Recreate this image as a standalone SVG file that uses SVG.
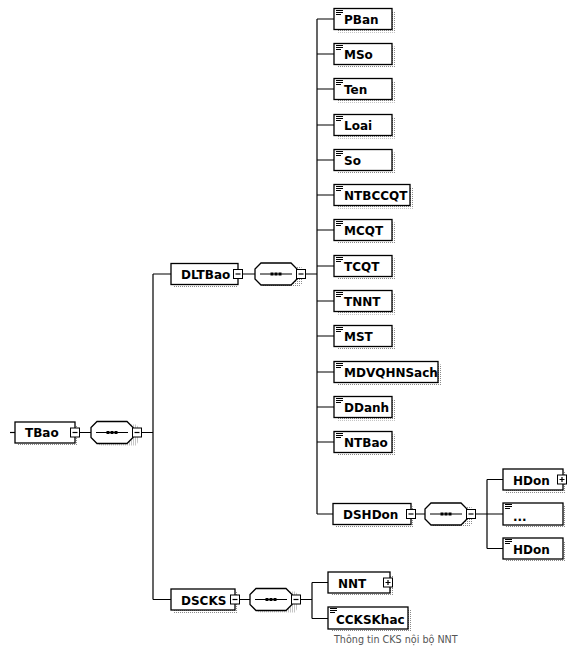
<svg xmlns="http://www.w3.org/2000/svg" xmlns:xlink="http://www.w3.org/1999/xlink" width="575" height="647" viewBox="0 0 575 647">
<style>
.bx{fill:#fff;stroke:#000;stroke-width:1.3}
.sh{fill:url(#dots)}
.t{font-family:"DejaVu Sans",Verdana,sans-serif;font-weight:bold;font-size:12px;fill:#000}
.c{fill:none;stroke:#000;stroke-width:1.2}
.lbl{font-family:"DejaVu Sans",sans-serif;font-size:9.6px;fill:#555}
</style>
<defs>
<pattern id="dots" width="2" height="2" patternUnits="userSpaceOnUse"><rect width="1" height="1" fill="#8a8a8a"/></pattern>
<g id="ic"><path d="M0 0.5h7M0 2.5h7M0 4.5h5" stroke="#000" stroke-width="1"/></g>
<g id="minus"><rect x="-4.5" y="-4.5" width="9" height="9" fill="#fff" stroke="#000" stroke-width="1"/><path d="M-2.5 0h5" stroke="#000" stroke-width="1.2"/></g>
<g id="plus"><rect x="-4.5" y="-4.5" width="9" height="9" fill="#fff" stroke="#000" stroke-width="1"/><path d="M-2.5 0h5M0 -2.5v5" stroke="#000" stroke-width="1.2"/></g>
<g id="seq">
<path d="M9 3H45L48 6V19L45 24H9L3 18V8Z" class="sh"/>
<path d="M6 0H36L42 6V16L36 22H6L0 16V6Z" class="bx"/>
<path d="M5 11H37" stroke="#000" stroke-width="1"/>
<rect x="15.5" y="9.5" width="3" height="3"/><rect x="19.5" y="9.5" width="3" height="3"/><rect x="23.5" y="9.5" width="3" height="3"/>
<use xlink:href="#minus" x="46" y="11"/>
</g>
</defs>
<rect width="575" height="647" fill="#fff"/>

<g id="connectors">
<path class="c" d="M10 432.5H15"/>
<path class="c" d="M79.5 432.5H91M141 432.5H153M153 274V599.5M153 274H171M153 599.5H171"/>
<path class="c" d="M242.5 274H255M305 274H317M317 19V514"/>
<path class="c" d="M317 19H334M317 54H334M317 89H334M317 125H334M317 160H334M317 195H334M317 230H334M317 266H334M317 301H334M317 336H334M317 372H334M317 407H334M317 442H334M317 514H333"/>
<path class="c" d="M415.5 514H425M475 514H503M487 479.5V548.5M487 479.5H503M487 548.5H503"/>
<path class="c" d="M239.5 599.5H250M300 599.5H312M312 582.5V618.5M312 582.5H328M312 618.5H328"/>
</g>

<g id="TBao"><rect class="sh" x="18" y="425" width="60" height="21"/><rect class="bx" x="15" y="422" width="60" height="21"/><text class="t" x="25" y="437">TBao</text><use xlink:href="#minus" x="75" y="432.5"/></g>
<g id="seq-TBao"><use xlink:href="#seq" x="91" y="421.5"/></g>

<g id="DLTBao"><rect class="sh" x="174" y="267" width="64" height="21"/><rect class="bx" x="171" y="263.5" width="67" height="21"/><text class="t" x="181" y="279">DLTBao</text><use xlink:href="#minus" x="238" y="274"/></g>
<g id="seq-DLTBao"><use xlink:href="#seq" x="255" y="263"/></g>

<g id="PBan"><rect class="sh" x="337" y="11.5" width="58" height="21"/><rect class="bx" x="334" y="8.5" width="58" height="21"/><use xlink:href="#ic" x="336" y="10"/><text class="t" x="344" y="24">PBan</text></g>
<g id="MSo"><rect class="sh" x="337" y="46.5" width="58" height="21"/><rect class="bx" x="334" y="43.5" width="58" height="21"/><use xlink:href="#ic" x="336" y="45"/><text class="t" x="344" y="59">MSo</text></g>
<g id="Ten"><rect class="sh" x="337" y="81.5" width="58" height="21"/><rect class="bx" x="334" y="78.5" width="58" height="21"/><use xlink:href="#ic" x="336" y="80"/><text class="t" x="344" y="94">Ten</text></g>
<g id="Loai"><rect class="sh" x="337" y="117.5" width="58" height="21"/><rect class="bx" x="334" y="114.5" width="58" height="21"/><use xlink:href="#ic" x="336" y="116"/><text class="t" x="344" y="130">Loai</text></g>
<g id="So"><rect class="sh" x="337" y="152.5" width="58" height="21"/><rect class="bx" x="334" y="149.5" width="58" height="21"/><use xlink:href="#ic" x="336" y="151"/><text class="t" x="344" y="165">So</text></g>
<g id="NTBCCQT"><rect class="sh" x="337" y="187.5" width="76" height="21"/><rect class="bx" x="334" y="184.5" width="76" height="21"/><use xlink:href="#ic" x="336" y="186"/><text class="t" x="344" y="200">NTBCCQT</text></g>
<g id="MCQT"><rect class="sh" x="337" y="222.5" width="58" height="21"/><rect class="bx" x="334" y="219.5" width="58" height="21"/><use xlink:href="#ic" x="336" y="221"/><text class="t" x="344" y="235">MCQT</text></g>
<g id="TCQT"><rect class="sh" x="337" y="258.5" width="58" height="21"/><rect class="bx" x="334" y="255.5" width="58" height="21"/><use xlink:href="#ic" x="336" y="257"/><text class="t" x="344" y="271">TCQT</text></g>
<g id="TNNT"><rect class="sh" x="337" y="293.5" width="58" height="21"/><rect class="bx" x="334" y="290.5" width="58" height="21"/><use xlink:href="#ic" x="336" y="292"/><text class="t" x="344" y="306">TNNT</text></g>
<g id="MST"><rect class="sh" x="337" y="328.5" width="58" height="21"/><rect class="bx" x="334" y="325.5" width="58" height="21"/><use xlink:href="#ic" x="336" y="327"/><text class="t" x="344" y="341">MST</text></g>
<g id="MDVQHNSach"><rect class="sh" x="337" y="364.5" width="104" height="21"/><rect class="bx" x="334" y="361.5" width="104" height="21"/><use xlink:href="#ic" x="336" y="363"/><text class="t" x="344" y="377">MDVQHNSach</text></g>
<g id="DDanh"><rect class="sh" x="337" y="399.5" width="58" height="21"/><rect class="bx" x="334" y="396.5" width="58" height="21"/><use xlink:href="#ic" x="336" y="398"/><text class="t" x="344" y="412">DDanh</text></g>
<g id="NTBao"><rect class="sh" x="337" y="434.5" width="58" height="21"/><rect class="bx" x="334" y="431.5" width="58" height="21"/><use xlink:href="#ic" x="336" y="433"/><text class="t" x="344" y="447">NTBao</text></g>

<g id="DSHDon"><rect class="sh" x="336" y="506.5" width="78" height="21"/><rect class="bx" x="333" y="503.5" width="78" height="21"/><text class="t" x="343" y="519">DSHDon</text><use xlink:href="#minus" x="411" y="514"/></g>
<g id="seq-DSHDon"><use xlink:href="#seq" x="425" y="503"/></g>

<g id="HDon-1"><rect class="sh" x="506" y="472" width="60" height="21"/><rect class="bx" x="503" y="469" width="60" height="21"/><text class="t" x="513" y="484.5">HDon</text><use xlink:href="#plus" x="562" y="479.5"/></g>
<g id="HDon-more"><rect class="sh" x="506" y="506" width="60" height="22"/><rect class="bx" x="503" y="503" width="60" height="22"/><use xlink:href="#ic" x="505" y="504"/><text class="t" x="513" y="521">...</text></g>
<g id="HDon-2"><rect class="sh" x="506" y="541" width="60" height="21"/><rect class="bx" x="503" y="538" width="60" height="21"/><use xlink:href="#ic" x="505" y="539"/><text class="t" x="513" y="553.5">HDon</text></g>

<g id="DSCKS"><rect class="sh" x="174" y="592" width="64" height="21"/><rect class="bx" x="171" y="589" width="64" height="21"/><text class="t" x="181" y="604.5">DSCKS</text><use xlink:href="#minus" x="235" y="599.5"/></g>
<g id="seq-DSCKS"><use xlink:href="#seq" x="250" y="588.5"/></g>

<g id="NNT"><rect class="sh" x="331" y="575" width="62" height="21"/><rect class="bx" x="328" y="572" width="62" height="21"/><text class="t" x="338" y="587.5">NNT</text><use xlink:href="#plus" x="388" y="582.5"/></g>
<g id="CCKSKhac"><rect class="sh" x="331" y="610" width="80" height="22"/><rect class="bx" x="328" y="607" width="80" height="22"/><use xlink:href="#ic" x="330" y="608"/><text class="t" x="336" y="623.5">CCKSKhac</text><text class="lbl" x="334" y="643">Thông tin CKS nội bộ NNT</text></g>
</svg>
